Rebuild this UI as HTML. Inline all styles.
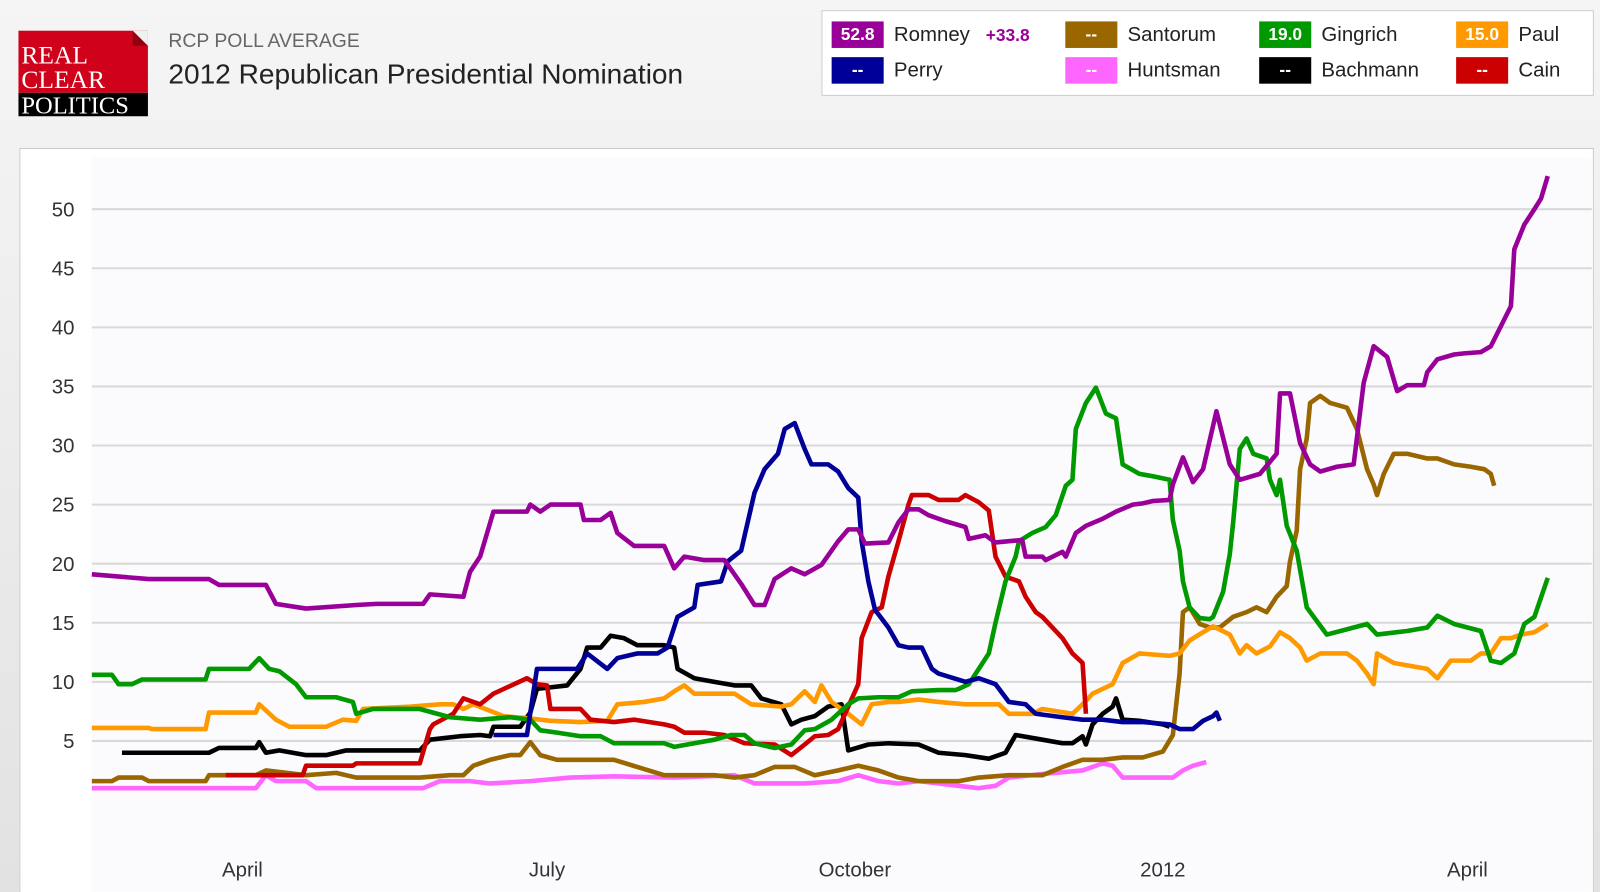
<!DOCTYPE html>
<html style="overflow:hidden;width:1600px;height:892px"><head><meta charset="utf-8">
<style>
html,body{margin:0;padding:0}
body{width:1600px;height:892px;overflow:hidden;background:linear-gradient(#f5f5f5,#e2e2e2);font-family:"Liberation Sans",sans-serif;position:relative}
#wrap{position:absolute;left:0;top:0;width:1568px;height:874px;transform:scale(1.020408);transform-origin:0 0}
.logo{position:absolute;left:18px;top:30px;width:127px;height:84px}
.t1{position:absolute;left:165px;top:30px;font-size:19px;color:#666}
.t2{position:absolute;left:165px;top:57px;font-size:27.5px;color:#222}
.legend{position:absolute;left:805px;top:10px;width:755px;height:82px;background:#fff;border:1px solid #ccc}
.li{position:absolute;height:26px;font-size:20px;color:#222;line-height:26px;white-space:nowrap}
.sw{display:inline-block;width:51px;height:26px;color:#fff;font-weight:bold;font-size:17px;text-align:center;vertical-align:top;margin-right:10px}
.panel{position:absolute;left:19px;top:145px;width:1541px;height:729px;background:#fff;border:1px solid #ccc;border-bottom:none}
svg{position:absolute;left:0;top:0}
</style></head><body>
<div id="wrap">
<svg class="logo" width="127" height="84" viewBox="0 0 127 84">
<rect x="0" y="0" width="127" height="61" fill="#d0021b"/>
<polygon points="112,0 127,15 112,15" fill="#8e0010"/><polygon points="112,0 127,0 127,15" fill="#f0f0f0"/>
<rect x="0" y="61" width="127" height="23" fill="#000"/>
<text x="3" y="32" font-family="Liberation Serif" font-size="25" fill="#fff">REAL</text>
<text x="3" y="56" font-family="Liberation Serif" font-size="25" fill="#fff">CLEAR</text>
<text x="3" y="81" font-family="Liberation Serif" font-size="24" fill="#fff">POLITICS</text>
</svg>
<div class="t1">RCP POLL AVERAGE</div>
<div class="t2">2012 Republican Presidential Nomination</div>
<div class="legend">
<div class="li" style="left:9px;top:10px"><span class="sw" style="background:#990099">52.8</span>Romney <b style="color:#990099;font-size:17px;margin-left:10px">+33.8</b></div>
<div class="li" style="left:238px;top:10px"><span class="sw" style="background:#996600">--</span>Santorum</div>
<div class="li" style="left:428px;top:10px"><span class="sw" style="background:#009900">19.0</span>Gingrich</div>
<div class="li" style="left:621px;top:10px"><span class="sw" style="background:#ff9900">15.0</span>Paul</div>
<div class="li" style="left:9px;top:45px"><span class="sw" style="background:#000099">--</span>Perry</div>
<div class="li" style="left:238px;top:45px"><span class="sw" style="background:#ff66ff">--</span>Huntsman</div>
<div class="li" style="left:428px;top:45px"><span class="sw" style="background:#000">--</span>Bachmann</div>
<div class="li" style="left:621px;top:45px"><span class="sw" style="background:#cc0000">--</span>Cain</div>
</div>
<div class="panel"></div>
<svg id="chart" width="1568" height="874"></svg>
</div>
<script>
const yTicks=[5,10,15,20,25,30,35,40,45,50];
const xTickDays=[45,136,228,320,411];
const xTickLabels=["April","July","October","2012","April"];
const seriesNames=["huntsman","santorum","bachmann","paul","cain","gingrich","perry","romney"];
const seriesColors=["#ff66ff","#996600","#000000","#ff9900","#cc0000","#009900","#000099","#990099"];
const romney=[[0,19.1],[17,18.7],[35,18.7],[38,18.2],[52,18.2],[55,16.6],[64,16.2],[79,16.5],[85,16.6],[99,16.6],[101,17.4],[111,17.2],[113,19.3],[116,20.6],[120,24.4],[130,24.4],[131,25.0],[134,24.4],[137,25.0],[146,25.0],[147,23.7],[152,23.7],[155,24.3],[157,22.6],[162,21.5],[171,21.5],[174,19.6],[177,20.6],[183,20.3],[189,20.3],[194,18.3],[198,16.5],[201,16.5],[204,18.7],[209,19.6],[213,19.1],[218,19.9],[223,21.9],[226,22.9],[229,22.9],[231,21.7],[238,21.8],[241,23.5],[244,24.6],[247,24.6],[250,24.1],[255,23.6],[261,23.1],[262,22.1],[267,22.4],[270,21.8],[278,22.0],[279,20.6],[284,20.6],[285,20.3],[290,21.0],[291,20.6],[294,22.6],[297,23.2],[302,23.8],[306,24.4],[311,25.0],[314,25.1],[317,25.3],[322,25.4],[323,26.7],[326,29.0],[329,26.9],[332,28.0],[336,32.9],[340,28.4],[343,27.1],[349,27.6],[354,29.3],[355,34.4],[358,34.4],[361,30.2],[364,28.4],[367,27.8],[372,28.2],[377,28.4],[380,35.3],[383,38.4],[387,37.5],[390,34.6],[393,35.1],[398,35.1],[399,36.2],[402,37.3],[407,37.7],[410,37.8],[415,37.9],[418,38.4],[421,40.1],[424,41.8],[425,46.6],[428,48.7],[431,50.0],[433,50.9],[435,52.8]];
const perry=[[120,5.5],[130,5.5],[133,11.1],[145,11.1],[148,12.4],[154,11.1],[157,12.0],[163,12.4],[169,12.4],[172,12.9],[175,15.5],[180,16.3],[181,18.2],[188,18.5],[190,20.2],[194,21.1],[198,26.0],[201,28.0],[205,29.3],[207,31.4],[210,31.9],[213,29.7],[215,28.4],[220,28.4],[223,27.8],[226,26.4],[229,25.6],[230,21.9],[232,18.5],[234,16.1],[238,14.6],[241,13.1],[244,12.9],[248,12.9],[251,11.1],[253,10.7],[261,10.0],[265,10.3],[270,9.8],[274,8.3],[279,8.1],[282,7.3],[290,7.0],[296,6.8],[302,6.8],[308,6.6],[314,6.6],[322,6.4],[325,6.0],[329,6.0],[332,6.7],[335,7.1],[336,7.4],[337,6.7]];
const gingrich=[[0,10.6],[6,10.6],[8,9.8],[12,9.8],[15,10.2],[34,10.2],[35,11.1],[47,11.1],[50,12.0],[53,11.1],[56,10.9],[61,9.8],[64,8.7],[73,8.7],[78,8.3],[79,7.3],[84,7.7],[98,7.7],[107,7.0],[116,6.8],[125,7.0],[131,6.8],[134,5.9],[139,5.7],[146,5.4],[152,5.4],[156,4.8],[171,4.8],[174,4.5],[180,4.8],[186,5.1],[191,5.5],[195,5.5],[198,4.8],[204,4.4],[209,4.7],[213,5.9],[216,6.0],[221,6.8],[226,8.1],[229,8.6],[235,8.7],[241,8.7],[245,9.2],[253,9.3],[258,9.3],[259,9.4],[262,9.8],[265,11.1],[268,12.4],[270,15.0],[273,18.5],[276,20.6],[277,21.9],[281,22.6],[285,23.1],[288,24.1],[291,26.6],[293,27.1],[294,31.4],[297,33.6],[300,34.9],[303,32.7],[306,32.3],[308,28.4],[313,27.6],[317,27.4],[322,27.1],[323,23.7],[325,21.1],[326,18.5],[328,16.3],[331,15.4],[334,15.3],[335,15.5],[338,17.6],[340,20.8],[341,23.5],[343,29.7],[345,30.6],[347,29.3],[351,28.9],[352,27.1],[354,25.8],[355,27.1],[357,23.2],[360,21.1],[363,16.3],[369,14.0],[381,14.9],[384,14.0],[393,14.3],[399,14.6],[402,15.6],[407,14.9],[415,14.3],[418,11.8],[421,11.6],[425,12.4],[428,14.9],[431,15.5],[435,18.8]];
const paul=[[0,6.1],[17,6.1],[18,6.0],[34,6.0],[35,7.4],[49,7.4],[50,8.1],[55,6.8],[59,6.2],[70,6.2],[75,6.8],[79,6.7],[81,7.7],[95,7.9],[104,8.1],[108,8.1],[111,7.7],[114,8.1],[123,7.1],[131,6.9],[137,6.7],[146,6.6],[154,6.7],[157,8.1],[165,8.3],[171,8.6],[174,9.2],[177,9.7],[180,9.0],[192,9.0],[197,8.1],[206,7.9],[209,8.1],[213,9.2],[216,8.3],[218,9.7],[221,8.3],[226,7.3],[230,6.4],[233,8.1],[238,8.3],[241,8.3],[247,8.5],[253,8.3],[261,8.1],[271,8.1],[274,7.3],[281,7.3],[284,7.7],[293,7.3],[296,8.1],[299,9.0],[305,9.8],[308,11.6],[313,12.4],[322,12.2],[325,12.4],[328,13.5],[332,14.2],[335,14.7],[340,14.0],[343,12.4],[345,13.1],[348,12.4],[352,13.0],[355,14.2],[358,13.7],[361,12.9],[363,11.8],[367,12.4],[375,12.4],[378,11.8],[381,10.7],[383,9.8],[384,12.4],[389,11.6],[399,11.1],[402,10.3],[406,11.8],[412,11.8],[415,12.4],[418,12.4],[421,13.7],[424,13.7],[427,14.0],[431,14.2],[435,14.9]];
const santorum=[[0,1.6],[6,1.6],[8,1.9],[15,1.9],[17,1.6],[34,1.6],[35,2.1],[49,2.1],[52,2.5],[64,2.1],[73,2.3],[79,1.9],[98,1.9],[107,2.1],[111,2.1],[114,2.9],[119,3.4],[125,3.8],[128,3.8],[131,4.9],[134,3.8],[139,3.4],[148,3.4],[156,3.4],[171,2.1],[186,2.1],[192,1.9],[198,2.1],[204,2.8],[210,2.8],[216,2.1],[223,2.5],[229,2.9],[235,2.5],[241,1.9],[247,1.6],[259,1.6],[265,1.9],[274,2.1],[284,2.1],[290,2.8],[296,3.4],[302,3.4],[308,3.6],[314,3.6],[320,4.1],[323,5.5],[325,10.7],[326,15.9],[328,16.3],[331,14.9],[334,14.6],[337,14.6],[341,15.5],[345,15.9],[348,16.3],[351,15.9],[354,17.2],[357,18.1],[358,20.2],[360,22.8],[361,28.0],[363,30.6],[364,33.6],[367,34.2],[370,33.6],[375,33.2],[378,31.4],[381,28.0],[383,26.7],[384,25.8],[386,27.6],[389,29.3],[393,29.3],[399,28.9],[402,28.9],[407,28.4],[412,28.2],[416,28.0],[418,27.6],[419,26.6]];
const huntsman=[[0,1.0],[49,1.0],[52,2.1],[55,1.6],[64,1.6],[67,1.0],[99,1.0],[104,1.6],[113,1.6],[119,1.4],[131,1.6],[143,1.9],[156,2.0],[174,1.9],[192,2.1],[198,1.4],[213,1.4],[223,1.6],[229,2.1],[235,1.6],[241,1.4],[247,1.6],[259,1.2],[265,1.0],[270,1.2],[274,1.9],[284,2.2],[296,2.5],[302,3.1],[305,2.9],[308,1.9],[314,1.9],[323,1.9],[326,2.5],[329,2.9],[333,3.2]];
const bachmann=[[9,4.0],[35,4.0],[38,4.4],[49,4.4],[50,4.9],[52,4.0],[56,4.2],[64,3.8],[70,3.8],[76,4.2],[98,4.2],[101,5.1],[110,5.4],[116,5.5],[119,5.4],[120,6.2],[128,6.2],[131,7.4],[133,9.4],[142,9.7],[146,11.1],[148,12.9],[152,12.9],[155,13.9],[159,13.7],[163,13.1],[171,13.1],[174,12.9],[175,11.1],[180,10.3],[186,10.0],[192,9.7],[197,9.7],[200,8.6],[206,8.1],[209,6.4],[212,6.8],[216,7.1],[220,7.9],[224,8.1],[226,4.2],[232,4.7],[238,4.8],[247,4.7],[253,4.0],[261,3.8],[268,3.5],[273,4.0],[276,5.5],[284,5.1],[290,4.8],[293,4.8],[296,5.4],[297,4.7],[299,6.4],[302,7.3],[305,7.9],[306,8.6],[308,6.8],[313,6.7],[320,6.4],[322,6.2]];
const cain=[[40,2.1],[63,2.1],[64,2.9],[78,2.9],[79,3.1],[98,3.1],[101,6.0],[102,6.4],[108,7.3],[111,8.6],[116,8.1],[120,9.0],[130,10.3],[133,9.8],[136,9.7],[137,7.7],[146,7.7],[149,6.8],[156,6.6],[162,6.8],[171,6.4],[174,6.2],[177,5.7],[183,5.7],[189,5.5],[195,4.8],[204,4.7],[209,3.8],[213,4.7],[216,5.4],[220,5.5],[223,6.0],[226,7.9],[229,9.8],[230,13.7],[233,15.9],[236,16.3],[238,18.9],[241,21.9],[244,25.0],[245,25.8],[250,25.8],[253,25.4],[259,25.4],[261,25.8],[265,25.2],[268,24.5],[270,20.6],[273,18.9],[277,18.5],[279,17.2],[282,15.9],[284,15.5],[290,13.7],[293,12.4],[296,11.6],[297,7.3]];
const seriesData=[huntsman,santorum,bachmann,paul,cain,gingrich,perry,romney];

const X0=90,PXD=3.28,Y0=784,PXV=11.58;
function xs(d){return X0+d*PXD;}
function ys(v){return Y0-v*PXV;}
const NS="http://www.w3.org/2000/svg";
const svg=document.getElementById('chart');
function mk(tag,attrs){const e=document.createElementNS(NS,tag);for(const k in attrs)e.setAttribute(k,attrs[k]);svg.appendChild(e);return e;}
const bg=mk('rect',{x:90,y:155,width:1470,height:719,fill:'#fbfbfd'});


yTicks.forEach(v=>{
  const l=mk('line',{x1:90,x2:1560,y1:ys(v),y2:ys(v),stroke:'#d9d9d9','stroke-width':2});
  
  
  const t=mk('text',{x:73,y:ys(v)+7,'text-anchor':'end','font-size':20,fill:'#333','font-family':'Liberation Sans'});
  t.textContent=v;
  
  
});
xTickDays.forEach((d,i)=>{
  const t=mk('text',{x:xs(d),y:859,'text-anchor':'middle','font-size':20,fill:'#333','font-family':'Liberation Sans'});
  t.textContent=xTickLabels[i];
  
  
});
seriesData.forEach((s,i)=>{
  const p=mk('polyline',{points:s.map(q=>xs(q[0]).toFixed(1)+','+ys(q[1]).toFixed(1)).join(' '),fill:'none',stroke:seriesColors[i],'stroke-width':4.5,'stroke-linejoin':'round'});
  
  
});
</script>
</body></html>
